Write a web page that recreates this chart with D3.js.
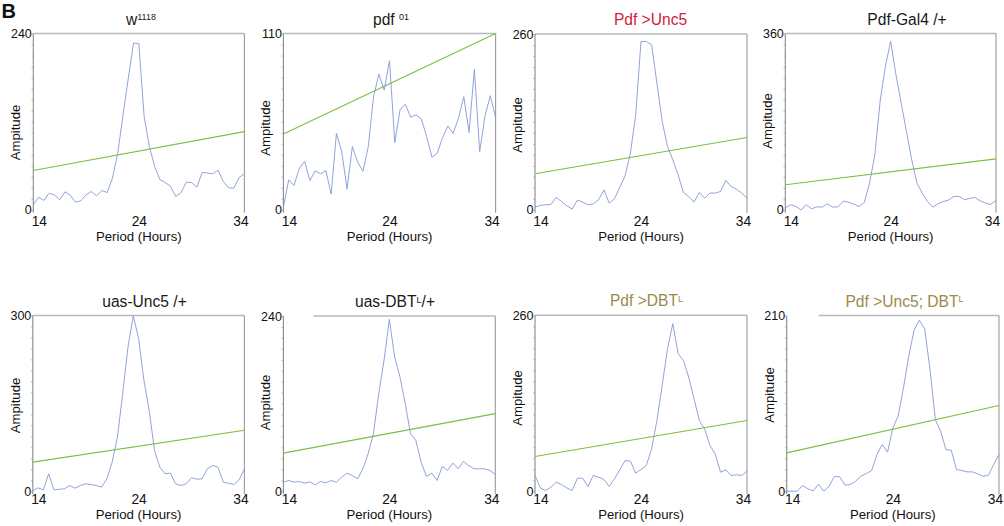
<!DOCTYPE html>
<html><head><meta charset="utf-8">
<script src="https://cdn.jsdelivr.net/npm/d3@7"></script>
<style>
html,body{margin:0;padding:0;background:#fff}
svg{display:block;font-family:"Liberation Sans",Arial,Helvetica,sans-serif}
</style>
</head><body>
<svg id="chart" width="1004" height="526"></svg>
<script>
// ---------------- DATA ----------------
const periods = [14,14.5,15,15.5,16,16.5,17,17.5,18,18.5,19,19.5,20,20.5,21,21.5,22,22.5,23,23.5,24,24.5,25,25.5,26,26.5,27,27.5,28,28.5,29,29.5,30,30.5,31,31.5,32,32.5,33,33.5,34];
const xTicks = [14, 24, 34];

const w1118 = [6.8,17.2,12.7,22.6,20.4,13.6,24.5,19.9,10.4,12.2,20.4,24.9,19,26.3,23.5,43,77,129,179,227,226,127,86,59,41,37,32,18,23.5,37.6,37,31,51,50,49,54,38.5,30,29.4,44,49];
const pdf01 = [1.7,18.7,15.2,25.9,30.1,18.3,24.3,22.4,24.5,9.8,47.7,36.3,12.9,39.4,29.7,24.1,39.4,70.6,84.7,74.7,93,41.9,62.7,65.8,57.7,59.2,56.7,45.7,32.8,35.3,45,52.3,47.7,57.1,70.6,48.2,87.6,36.3,58.5,71.2,57.5];
const pdfUnc5 = [4,6.4,7.4,7.9,18.3,12.3,5.9,1,14.3,11.3,7.4,8.9,14.8,29.6,9.9,16.3,33.5,50.3,83.9,140.6,249,249,244,187.5,130.7,93.7,74,51.8,25.7,19.7,11.3,25.7,17.3,24.7,24.7,27.1,43.4,34.5,30.6,24.7,17.3];
const pdfGal4 = [3.4,10.2,6.8,0,10.2,2,6.1,5.5,12.3,5.5,6.1,17.7,15.7,11.6,6.8,15,54.5,112.5,221.6,293,344,276,218,160,102,54.5,34,17,5.5,12.3,17,19.8,27.3,27.3,20.5,23.2,25.2,18.4,13.6,10.9,19.1];
const uasUnc5 = [1,5.7,2.3,29.7,2.3,3.4,4,9.7,5.1,9.7,12.6,11.4,9.7,6.9,21.1,49.7,92.6,166.9,246.9,299.4,261,189.7,138.3,69.7,41.1,29.7,30.9,12.6,9.7,12.6,22.9,20.6,21.1,38.3,44,41.1,15.4,13.7,11.4,19.4,38.3];
const uasDBT = [12.4,14.7,12.4,13.3,11,12.8,8.7,13.3,11.5,14.7,12.4,19.2,24.7,21.5,17,30.7,51.3,78.8,133.7,179.5,235.4,184,156.6,120,78.8,69.6,39.8,20.2,24.7,14.7,33.9,28.4,38.5,30.7,40.8,34.8,30.7,30.7,30.7,28.4,22.9];
const pdfDBT = [23.2,4.9,1,5.9,13.3,9.9,4.9,1,19.2,19.2,6.9,23.2,20.7,17.3,6.9,18.3,31.6,45.4,44.4,26.6,32.1,38,62.7,104.6,156.4,210.7,247.7,203.3,193.4,168.7,136.7,104.6,92.3,67.6,55.3,28.1,31.6,23.2,24.2,23.2,29.6];
const pdfUnc5DBT = [0,0,0,6.8,2.8,0.5,8.4,0,6,17.9,17.1,7.2,8,12,17.9,21.1,24.7,43.8,55.8,46.6,75.7,89.7,123.5,161.4,192.5,204.4,194.1,145.4,85.7,71.7,49.8,49,25.9,24.7,23.1,23.1,20.7,17.9,19.1,31.9,43.8];

const amplitudes = [w1118, pdf01, pdfUnc5, pdfGal4, uasUnc5, uasDBT, pdfDBT, pdfUnc5DBT];
// significance line: value at 14 h and at 34 h
const sigStart = [53.4, 47.3, 53.3, 51, 49.7, 52.2, 51.3, 45.8];
const sigEnd   = [106.4, 110, 107, 104, 104, 106.3, 104.6, 102.4];
const yMax     = [240, 110, 260, 360, 300, 240, 260, 210];

// titles: [main, superscript, tail]
const titleMain = ["w", "pdf ", "Pdf >Unc5", "Pdf-Gal4 /+", "uas-Unc5 /+", "uas-DBT", "Pdf >DBT", "Pdf >Unc5; DBT"];
const titleSup  = ["1118", "01", "", "", "", "L", "L", "L"];
const titleTail = ["", "", "", "", "", "/+", "", ""];
const titleGroup = ["plain", "plain", "red", "plain", "plain", "plain", "olive", "olive"];

const xTitle = "Period (Hours)";
const yTitle = "Ampitude";
const panelLetter = "B";

// ---------------- LAYOUT / STYLE ----------------
const titleColors = {plain: "#1a1a1a", red: "#d3203b", olive: "#9c8a4c"};
const layout = [
  {l:33.3,  r:244.4, t:33.5, b:209.8, tx:141,   ly:132.5, gap:0,  row:0},
  {l:283.4, r:495.6, t:33.5, b:209.8, tx:391,   ly:128,   gap:0,  row:0},
  {l:535,   r:747,   t:34,   b:209.8, tx:650.5, ly:125,   gap:0,  row:0},
  {l:785.3, r:996,   t:33.5, b:209.8, tx:907,   ly:121,   gap:0,  row:0},
  {l:32.8,  r:244.4, t:315.5,b:491.2, tx:144.5, ly:405.5, gap:0,  row:1},
  {l:283.4, r:495.3, t:316,  b:491.2, tx:395,   ly:402.5, gap:30, row:1},
  {l:535,   r:747,   t:315.3,b:491.2, tx:646.5, ly:398,   gap:0,  row:1},
  {l:786.7, r:999,   t:315.5,b:491.2, tx:904.5, ly:395,   gap:32, row:1}
];
const rowTickDy  = [16.5, 13];
const rowTitleDy = [31, 27.5];

const svg = d3.select("#chart");
svg.append("rect").attr("width", 1004).attr("height", 526).attr("fill", "#fff");

svg.append("text").attr("x", 1.5).attr("y", 18.4)
  .attr("font-size", 20).attr("font-weight", "bold").attr("fill", "#111")
  .text(panelLetter);

amplitudes.forEach((vals, i) => {
  const L = layout[i];
  const g = svg.append("g");
  const x = d3.scaleLinear().domain([14, 34]).range([L.l, L.r]);
  const y = d3.scaleLinear().domain([0, yMax[i]]).range([L.b, L.t]);

  // frame: top, left, right
  g.append("line").attr("x1", L.l + L.gap).attr("x2", L.r).attr("y1", L.t).attr("y2", L.t)
    .attr("stroke", "#b8b8b8").attr("stroke-width", 1.6);
  g.append("line").attr("x1", L.r).attr("x2", L.r).attr("y1", L.t).attr("y2", L.b + 3)
    .attr("stroke", "#9a9a9a").attr("stroke-width", 1.1);
  g.append("line").attr("x1", L.l).attr("x2", L.l).attr("y1", L.t).attr("y2", L.b + 3)
    .attr("stroke", "#8a8a8a").attr("stroke-width", 1.1);

  // minor ticks on y axis
  const minor = d3.range(17).map(k => yMax[i] * k / 16);
  g.append("g").attr("transform", `translate(${L.l},0)`)
    .call(d3.axisLeft(y).tickValues(minor).tickSize(1.8).tickFormat(""))
    .call(s => s.select(".domain").remove())
    .call(s => s.selectAll("line").attr("stroke", "#9a9a9a").attr("stroke-width", 0.7));

  // y tick labels
  g.append("g").attr("transform", `translate(${L.l},0)`)
    .call(d3.axisLeft(y).tickValues([0, yMax[i]]).tickSize(0).tickPadding(1.5))
    .call(s => s.select(".domain").remove())
    .call(s => s.attr("font-family", null).attr("font-size", null))
    .call(s => s.selectAll("text").attr("font-size", 12.5).attr("fill", "#111"));

  // x tick labels
  g.append("g").attr("transform", `translate(0,${L.b})`)
    .call(d3.axisBottom(x).tickValues(xTicks).tickSize(0).tickFormat(d3.format("d")))
    .call(s => s.select(".domain").remove())
    .call(s => s.attr("font-family", null).attr("font-size", null))
    .call(s => s.selectAll("text")
      .attr("y", rowTickDy[L.row]).attr("dy", null)
      .attr("x", d => d === 14 ? 5.5 : (d === 34 ? -4 : 0))
      .attr("font-size", 13.8).attr("fill", "#111"));

  // significance line
  g.append("path")
    .datum([[14, sigStart[i]], [34, sigEnd[i]]])
    .attr("d", d3.line().x(d => x(d[0])).y(d => y(d[1])))
    .attr("fill", "none").attr("stroke", "#79c043").attr("stroke-width", 1.1);

  // amplitude line
  g.append("path")
    .datum(periods.map((p, k) => [p, vals[k]]))
    .attr("d", d3.line().x(d => x(d[0])).y(d => y(d[1])))
    .attr("fill", "none").attr("stroke", "#8298d8").attr("stroke-width", 0.9)
    .attr("stroke-linejoin", "round");

  // axis titles
  g.append("text").attr("x", (L.l + L.r) / 2).attr("y", L.b + rowTitleDy[L.row])
    .attr("text-anchor", "middle").attr("font-size", 13.2).attr("fill", "#111")
    .text(xTitle);
  g.append("text").attr("transform", `translate(${L.l - 13},${L.ly}) rotate(-90)`)
    .attr("text-anchor", "middle").attr("font-size", 13.2).attr("fill", "#111")
    .text(yTitle);

  // panel title
  const tt = g.append("text").attr("x", L.tx).attr("y", L.t - 9)
    .attr("text-anchor", "middle").attr("font-size", 15.6)
    .attr("fill", titleColors[titleGroup[i]]);
  tt.append("tspan").text(titleMain[i]);
  if (titleSup[i]) {
    tt.append("tspan").attr("font-size", 9).attr("dy", -4.5).text(titleSup[i]);
    if (titleTail[i]) tt.append("tspan").attr("dy", 4.5).text(titleTail[i]);
  }
});
</script>
</body></html>
